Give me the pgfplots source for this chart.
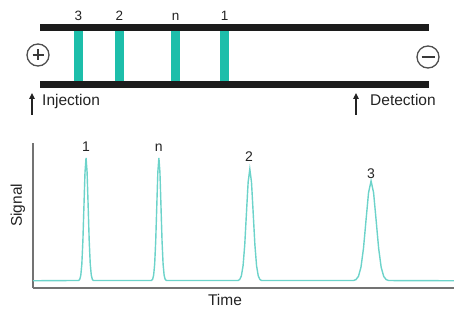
\documentclass[border=0pt]{standalone}
\usepackage{pgfplots}
\pgfplotsset{compat=1.18}
\usepackage{fontspec}
\setmainfont{Liberation Sans}
\usetikzlibrary{arrows.meta}
\definecolor{band}{RGB}{29,190,170}
\definecolor{trace}{RGB}{108,211,202}
\definecolor{axgray}{RGB}{115,115,115}
\definecolor{txt}{RGB}{35,35,35}
\definecolor{barc}{RGB}{28,28,28}
\begin{document}
\begin{tikzpicture}[x=1pt,y=1pt]
\useasboundingbox (0,0) rectangle (454,313);
% ---------- capillary diagram ----------
\begin{axis}[at={(0pt,0pt)}, anchor=south west, scale only axis,
  width=454pt, height=313pt, xmin=0, xmax=454, ymin=0, ymax=313,
  y dir=reverse, axis lines=none, clip=false]
\addplot[fill=band, draw=none] coordinates {(74,31) (83,31) (83,81) (74,81)} -- cycle;
\addplot[fill=band, draw=none] coordinates {(115,31) (124,31) (124,81) (115,81)} -- cycle;
\addplot[fill=band, draw=none] coordinates {(171,31) (180,31) (180,81) (171,81)} -- cycle;
\addplot[fill=band, draw=none] coordinates {(220,31) (229,31) (229,81) (220,81)} -- cycle;
\addplot[fill=barc, draw=none] coordinates {(40,24) (429,24) (429,31) (40,31)} -- cycle;
\addplot[fill=barc, draw=none] coordinates {(40,81) (429,81) (429,88) (40,88)} -- cycle;
\node[anchor=base, text=txt, font=\fontsize{13.5}{15}\selectfont] at (axis cs:78.5,21) {3};
\node[anchor=base, text=txt, font=\fontsize{13.5}{15}\selectfont] at (axis cs:119.5,21) {2};
\node[anchor=base, text=txt, font=\fontsize{13.5}{15}\selectfont] at (axis cs:175.5,21) {n};
\node[anchor=base, text=txt, font=\fontsize{13.5}{15}\selectfont] at (axis cs:224.5,21) {1};
\draw[draw=txt!80, line width=1.3pt] (axis cs:38,55) circle[radius=11pt];
\draw[draw=txt!90, line width=1.6pt] (axis cs:32.5,55) -- (axis cs:43.5,55);
\draw[draw=txt!90, line width=1.6pt] (axis cs:38,49.5) -- (axis cs:38,60.5);
\draw[draw=txt!80, line width=1.3pt] (axis cs:428,57) circle[radius=11pt];
\draw[draw=txt!90, line width=1.6pt] (axis cs:421.5,57) -- (axis cs:434.5,57);
\draw[-{Triangle[length=6pt,width=5.5pt]}, line width=1.2pt, draw=txt] (axis cs:32,115) -- (axis cs:32,93);
\draw[-{Triangle[length=6pt,width=5.5pt]}, line width=1.2pt, draw=txt] (axis cs:356,115) -- (axis cs:356,93);
\node[anchor=base west, inner sep=0pt, text=txt, font=\fontsize{15.5}{17}\selectfont] at (axis cs:42,106) {Injection};
\node[anchor=base west, inner sep=0pt, text=txt, font=\fontsize{15.5}{17}\selectfont] at (axis cs:370,106) {Detection};
\end{axis}
% ---------- electropherogram ----------
\begin{axis}[at={(33pt,25pt)}, anchor=south west, scale only axis,
  width=421pt, height=145pt, xmin=0, xmax=100, ymin=0, ymax=100,
  axis x line=bottom, axis y line=left,
  x axis line style={-}, y axis line style={-},
  axis line style={draw=axgray, line width=1.4pt},
  ticks=none, clip=false,
  xlabel={Time}, ylabel={Signal},
  label style={text=txt, font=\fontsize{15.5}{17}\selectfont},
  xlabel style={at={(axis description cs:0.456,-0.083)}, anchor=center},
  ylabel style={at={(axis description cs:-0.036,0.57)}, anchor=center}]
\addplot[trace, line width=1.4pt] coordinates {
(0,5)
(10.85,5.19) (11.1,5.94) (11.35,8.72) (11.6,16.46) (11.85,32.50) (12.1,56.37) (12.35,79.75) (12.6,89.70)
(12.85,79.75) (13.1,56.37) (13.35,32.50) (13.6,16.46) (13.85,8.72) (14.1,5.94) (14.35,5.19)
(28.15,5.19) (28.4,5.94) (28.65,8.72) (28.9,16.46) (29.15,32.50) (29.4,56.37) (29.65,79.75) (29.9,89.70)
(30.15,79.75) (30.4,56.37) (30.65,32.50) (30.9,16.46) (31.15,8.72) (31.4,5.94) (31.65,5.19)
(48.7,5.17) (49.1,5.85) (49.5,8.38) (49.9,15.42) (50.3,30.00) (50.7,51.70) (51.1,72.95) (51.5,82.00)
(51.9,72.95) (52.3,51.70) (52.7,30.00) (53.1,15.42) (53.5,8.38) (53.9,5.85) (54.3,5.17)
(76.1,5.15) (76.7,5.76) (77.3,8.02) (77.9,14.31) (78.5,27.34) (79.1,46.73) (79.7,65.72) (80.3,73.80)
(80.9,65.72) (81.5,46.73) (82.1,27.34) (82.7,14.31) (83.3,8.02) (83.9,5.76) (84.5,5.15)
(100,5)
};
\node[anchor=base, text=txt, font=\fontsize{14}{16}\selectfont] at (axis cs:12.6,94.0) {1};
\node[anchor=base, text=txt, font=\fontsize{14}{16}\selectfont] at (axis cs:29.9,94.0) {n};
\node[anchor=base, text=txt, font=\fontsize{14}{16}\selectfont] at (axis cs:51.3,87.1) {2};
\node[anchor=base, text=txt, font=\fontsize{14}{16}\selectfont] at (axis cs:80.3,75.7) {3};
\end{axis}
\end{tikzpicture}
\end{document}
